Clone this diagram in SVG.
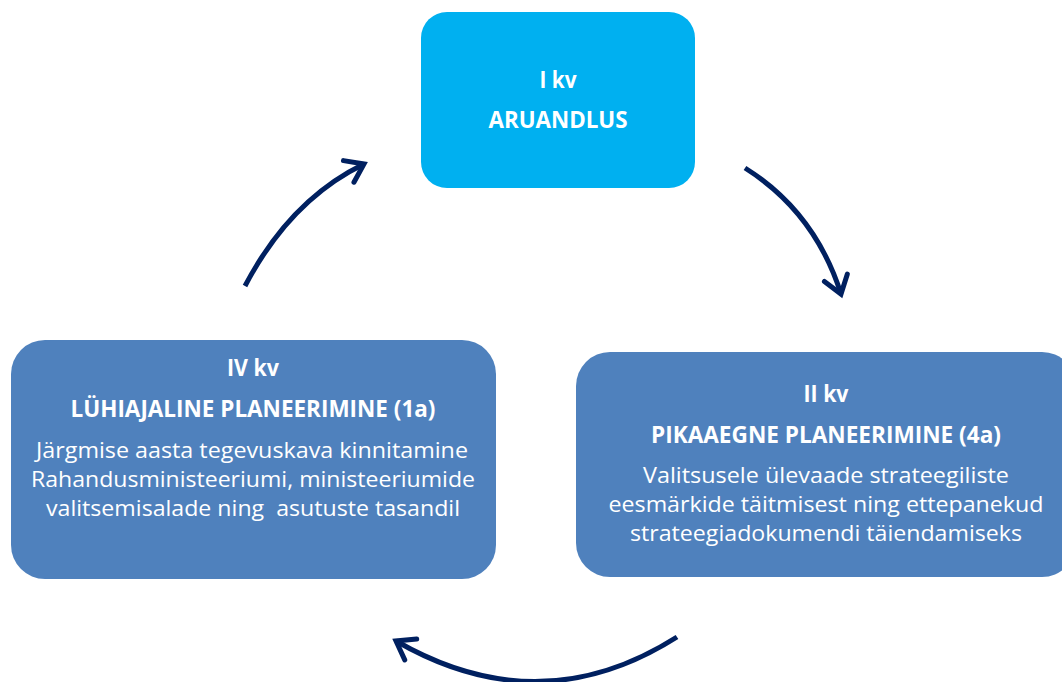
<svg xmlns="http://www.w3.org/2000/svg" width="1062" height="682" viewBox="0 0 1062 682">
<style>
.t{font-family:"Open Sans","Liberation Sans",sans-serif;fill:#fff;text-anchor:middle;white-space:pre}
.b{font-weight:bold;font-size:23.5px}
.n{font-size:22px}
.arrow{fill:none;stroke:#002060;stroke-width:5;stroke-linecap:butt}
</style>
<defs>
<marker id="ah" markerUnits="userSpaceOnUse" markerWidth="40" markerHeight="40" viewBox="-20 -20 40 40" refX="0" refY="0" orient="auto">
<path d="M-17,-12 L0,0 L-17,12" fill="none" stroke="#002060" stroke-width="5" stroke-linecap="round" stroke-linejoin="miter"/>
</marker>
</defs>
<rect width="1062" height="682" fill="#fff"/>
<g id="node-q1">
<rect x="421" y="12" width="274" height="176" rx="26" fill="#00B0F0"/>
<text class="t b" x="558" y="88" textLength="37" lengthAdjust="spacingAndGlyphs">I kv</text>
<text class="t b" x="558" y="128" textLength="139" lengthAdjust="spacingAndGlyphs">ARUANDLUS</text>
</g>
<g id="node-q2">
<rect x="576" y="352" width="500" height="225" rx="34" fill="#4F81BD"/>
<text class="t b" x="826" y="402" textLength="45" lengthAdjust="spacingAndGlyphs">II kv</text>
<text class="t b" x="826" y="443" textLength="350" lengthAdjust="spacingAndGlyphs">PIKAAEGNE PLANEERIMINE (4a)</text>
<text class="t n" x="826" y="483" textLength="366" lengthAdjust="spacingAndGlyphs">Valitsusele ülevaade strateegiliste</text>
<text class="t n" x="826" y="512" textLength="435" lengthAdjust="spacingAndGlyphs">eesmärkide täitmisest ning ettepanekud</text>
<text class="t n" x="826" y="541" textLength="392" lengthAdjust="spacingAndGlyphs">strateegiadokumendi täiendamiseks</text>
</g>
<g id="node-q4">
<rect x="11" y="340" width="485" height="239" rx="34" fill="#4F81BD"/>
<text class="t b" x="253" y="376" textLength="52" lengthAdjust="spacingAndGlyphs">IV kv</text>
<text class="t b" x="253" y="417" textLength="365" lengthAdjust="spacingAndGlyphs">LÜHIAJALINE PLANEERIMINE (1a)</text>
<text class="t n" x="252" y="458" textLength="432" lengthAdjust="spacingAndGlyphs">Järgmise aasta tegevuskava kinnitamine</text>
<text class="t n" x="253" y="487" textLength="444" lengthAdjust="spacingAndGlyphs">Rahandusministeeriumi, ministeeriumide</text>
<text class="t n" x="253" y="516" textLength="414" lengthAdjust="spacingAndGlyphs">valitsemisalade ning  asutuste tasandil</text>
</g>
<g id="connectors">
<path class="arrow" d="M245,286 Q290,200 364,164" marker-end="url(#ah)"/>
<path class="arrow" d="M745,168 Q815,212 841,294" marker-end="url(#ah)"/>
<path class="arrow" d="M677,637 Q540,724 396,641" marker-end="url(#ah)"/>
</g>
</svg>
